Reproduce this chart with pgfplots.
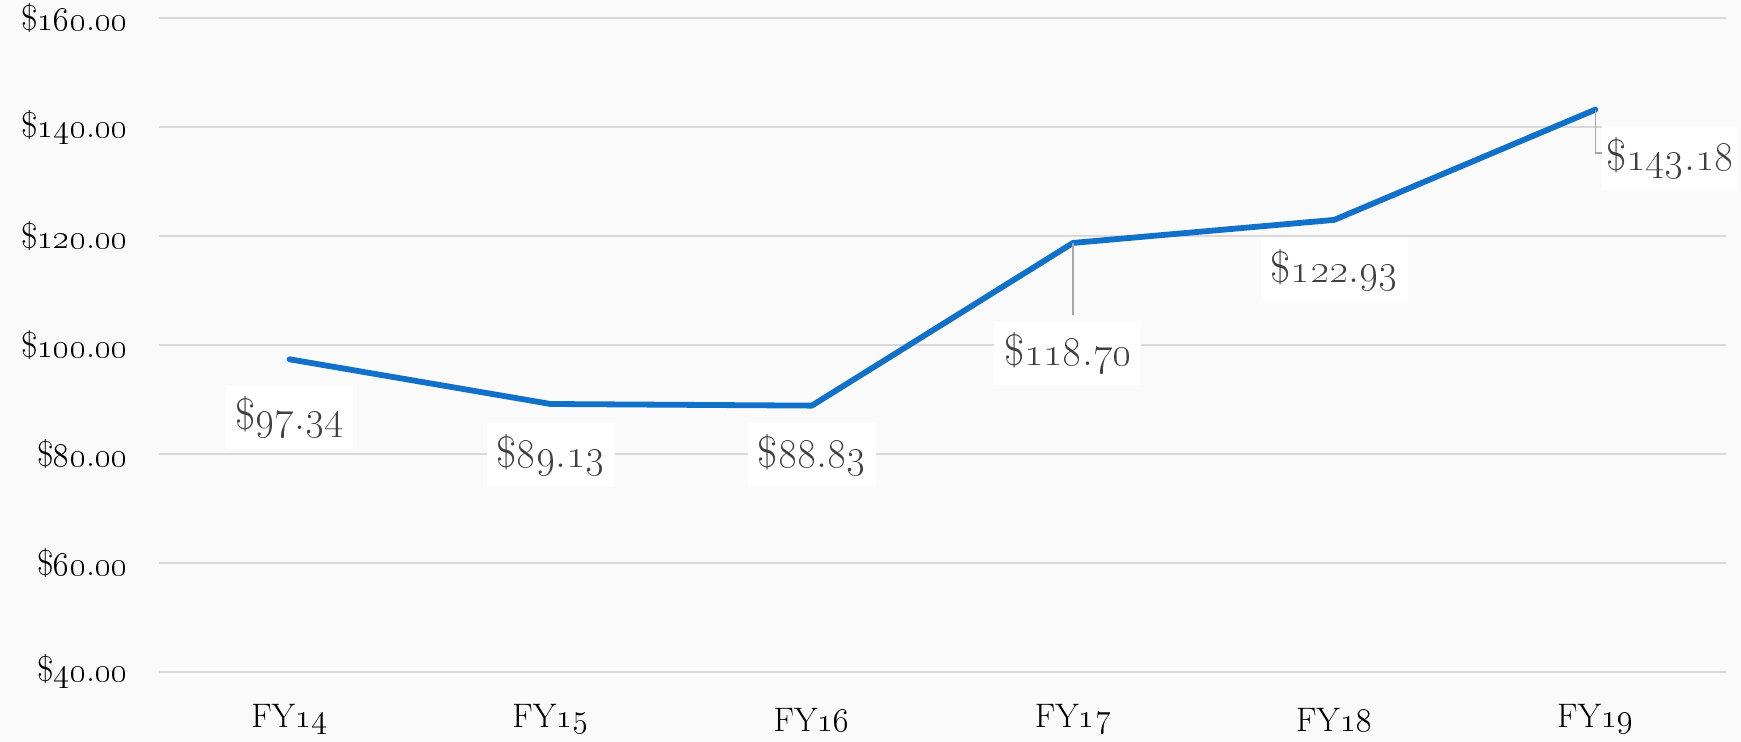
\documentclass[border=0pt]{standalone}
\usepackage{pgfplots}
\pgfplotsset{compat=1.18}

\definecolor{lineblue}{HTML}{1170C9}
\definecolor{labgray}{HTML}{404040}
\definecolor{leadgray}{HTML}{A6A6A6}

\newcommand\os[1]{\oldstylenums{#1}}
\newcommand\dl[2]{\$\os{#1}.\os{#2}}

\begin{document}
\begin{tikzpicture}
% page area (1 px = 0.5pt)
\path[use as bounding box, fill=black!2] (-79.5pt,-35pt) rectangle (791.5pt,336pt);
\begin{axis}[
    scale only axis,
    width=784pt, height=327pt,
    xmin=-0.5, xmax=5.5,
    ymin=40, ymax=160,
    xtick={0,1,2,3,4,5},
    xticklabels={FY\os{14},FY\os{15},FY\os{16},FY\os{17},FY\os{18},FY\os{19}},
    ytick={40,60,80,100,120,140,160},
    yticklabels={\dl{40}{00},\dl{60}{00},\dl{80}{00},\dl{100}{00},\dl{120}{00},\dl{140}{00},\dl{160}{00}},
    axis line style={draw=none},
    tick style={draw=none},
    ymajorgrids=true,
    grid style={line width=1pt, color=black!15},
    xticklabel style={font=\fontsize{17}{19}\selectfont, anchor=center, yshift=-24pt},
    yticklabel style={font=\fontsize{18}{20}\selectfont, anchor=east, xshift=-12pt},
    clip=false,
]
\addplot[color=lineblue, line width=2.9pt, line cap=round, line join=round] coordinates {
    (0,97.34)(1,89.13)(2,88.83)(3,118.70)(4,122.93)(5,143.18)
};

% leader lines
\draw[leadgray, line width=0.6pt] (axis cs:3,118.70) -- (axis cs:3,105.5);
\draw[leadgray, line width=0.6pt] (axis cs:5,143.18) -- (axis cs:5,135.2) -- (axis cs:5.05,135.2);

% data labels
\tikzset{dlab/.style={fill=white, text=labgray, font=\fontsize{22}{24}\selectfont,
    inner xsep=5pt, minimum height=32pt}}
\node[dlab] at (axis cs:0,86.8) {\dl{97}{34}};
\node[dlab] at (axis cs:1,79.8) {\dl{89}{13}};
\node[dlab] at (axis cs:2,79.8) {\dl{88}{83}};
\node[dlab] at (axis cs:2.98,98.5) {\dl{118}{70}};
\node[dlab] at (axis cs:4,113.8) {\dl{122}{93}};
\node[dlab, inner xsep=2pt, anchor=east] at (axis cs:5.545,134.3) {\dl{143}{18}};
\end{axis}
\end{tikzpicture}
\end{document}
